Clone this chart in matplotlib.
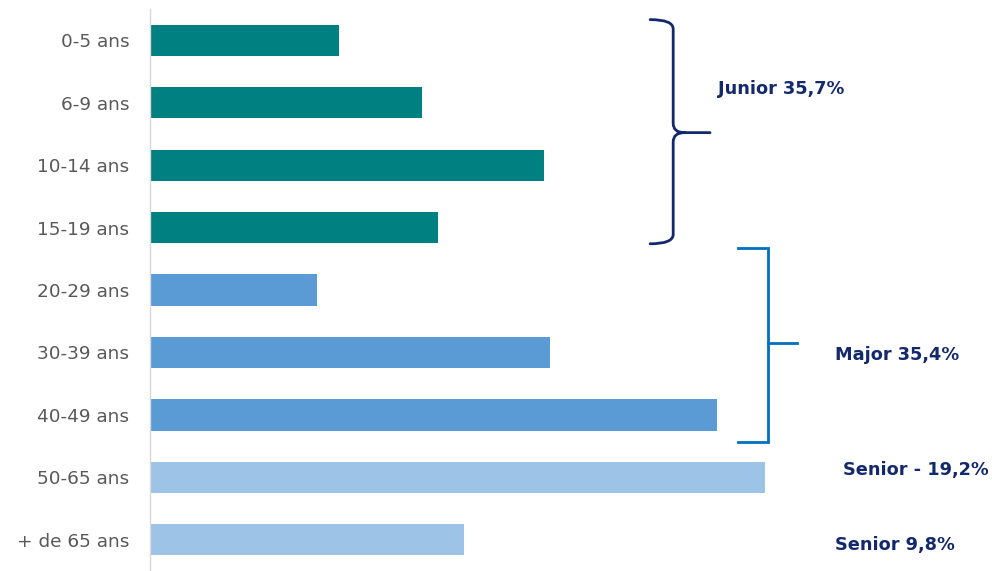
import matplotlib
matplotlib.use("Agg")
import matplotlib.pyplot as plt
from matplotlib.path import Path
from matplotlib.patches import PathPatch

categories = ["0-5 ans", "6-9 ans", "10-14 ans", "15-19 ans", "20-29 ans",
              "30-39 ans", "40-49 ans", "50-65 ans", "+ de 65 ans"]
shares = [5.9, 8.5, 12.3, 9.0, 5.2, 12.5, 17.7, 19.2, 9.8]
groups = ["junior"] * 4 + ["major"] * 3 + ["senior"] * 2
group_labels = ["Junior 35,7%", "Major 35,4%", "Senior - 19,2%", "Senior 9,8%"]

colors = {"junior": "#008080", "major": "#5B9BD5", "senior": "#9DC3E6"}
navy = "#13296B"
bracket_blue = "#0070C0"

fig = plt.figure(figsize=(9.92, 5.71), dpi=100)
ax = fig.add_axes([150 / 992, 0, 833 / 992, 562 / 571])

ypos = list(range(len(categories)))
ax.barh(ypos, shares, height=0.5, color=[colors[g] for g in groups])
ax.set_ylim(len(categories) - 0.5, -0.5)
ax.set_xlim(0, 26)
ax.set_yticks(ypos)
ax.set_yticklabels(categories, fontsize=13.3, color="#595959", family="DejaVu Sans")
ax.tick_params(axis="y", length=0, pad=15)
ax.set_xticks([])
for s in ["top", "right", "bottom"]:
    ax.spines[s].set_visible(False)
ax.spines["left"].set_color("#D9D9D9")
ax.spines["left"].set_linewidth(1)

# curly brace around the junior bars
xb, xe, xt = 16.33, 15.61, 17.48
y0, ym, y1 = -0.33, 1.48, 3.26
verts = [
    (xe, y0), (xb, y0), (xb, y0 + 0.15),
    (xb, ym - 0.15),
    (xb, ym), (xb + 0.35, ym),
    (xt, ym),
    (xb + 0.35, ym),
    (xb, ym), (xb, ym + 0.15),
    (xb, y1 - 0.15),
    (xb, y1), (xe, y1),
]
codes = [Path.MOVETO, Path.CURVE3, Path.CURVE3, Path.LINETO,
         Path.CURVE3, Path.CURVE3, Path.LINETO, Path.MOVETO,
         Path.CURVE3, Path.CURVE3, Path.LINETO, Path.CURVE3, Path.CURVE3]
ax.add_patch(PathPatch(Path(verts, codes), fill=False, edgecolor=navy,
                       lw=2.0, clip_on=False, capstyle="round"))

# square bracket around the major bars
bx, be, bt = 19.29, 18.36, 20.2
by0, bym, by1 = 3.33, 4.85, 6.43
ax.plot([be, bx, bx, be], [by0, by0, by1, by1], color=bracket_blue, lw=2,
        clip_on=False, solid_joinstyle="miter")
ax.plot([bx, bt], [bym, bym], color=bracket_blue, lw=2, clip_on=False)

label_pos = [(17.73, 0.78), (21.39, 5.04), (21.64, 6.88), (21.39, 8.09)]
for text, (x, y) in zip(group_labels, label_pos):
    ax.text(x, y, text, fontsize=12.8, fontweight="bold", color=navy,
            va="center", ha="left", family="DejaVu Sans", clip_on=False)

fig.savefig("out.png", dpi=100)
